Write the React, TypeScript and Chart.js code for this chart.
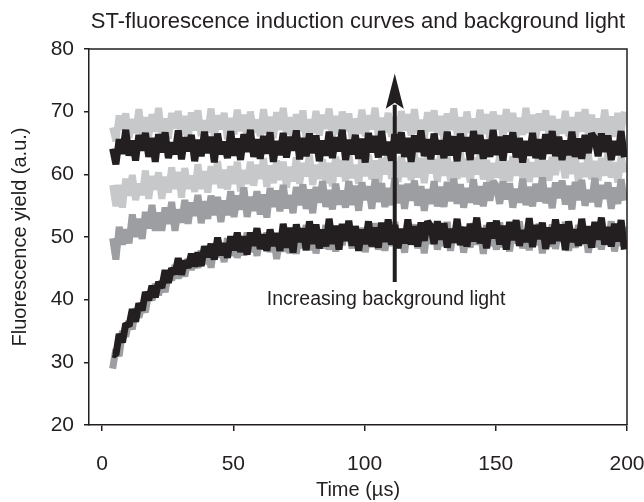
import React, { useEffect, useRef } from 'react';
import { Chart, registerables } from 'chart.js';

Chart.register(...registerables);

const TITLE = 'ST-fluorescence induction curves and background light';
const X_TITLE = 'Time (µs)';
const Y_TITLE = 'Fluorescence yield (a.u.)';
const ANNOTATION = 'Increasing background light';

const INK = '#231f20';
const MID_GRAY = '#9c9ea1';
const LIGHT_GRAY = '#c6c8ca';
const FONT = "'Liberation Sans', Arial, Helvetica, sans-serif";

const xTicks = [0, 50, 100, 150, 200];
const yTicks = [20, 30, 40, 50, 60, 70, 80];

const timeUs = [
  4, 5.25, 6.5, 7.75, 9, 10.25, 11.5, 12.75, 14, 15.25,
  16.5, 17.75, 19, 20.25, 21.5, 22.75, 24, 25.25, 26.5, 27.75,
  29, 30.25, 31.5, 32.75, 34, 35.25, 36.5, 37.75, 39, 40.25,
  41.5, 42.75, 44, 45.25, 46.5, 47.75, 49, 50.25, 51.5, 52.75,
  54, 55.25, 56.5, 57.75, 59, 60.25, 61.5, 62.75, 64, 65.25,
  66.5, 67.75, 69, 70.25, 71.5, 72.75, 74, 75.25, 76.5, 77.75,
  79, 80.25, 81.5, 82.75, 84, 85.25, 86.5, 87.75, 89, 90.25,
  91.5, 92.75, 94, 95.25, 96.5, 97.75, 99, 100.25, 101.5, 102.75,
  104, 105.25, 106.5, 107.75, 109, 110.25, 111.5, 112.75, 114, 115.25,
  116.5, 117.75, 119, 120.25, 121.5, 122.75, 124, 125.25, 126.5, 127.75,
  129, 130.25, 131.5, 132.75, 134, 135.25, 136.5, 137.75, 139, 140.25,
  141.5, 142.75, 144, 145.25, 146.5, 147.75, 149, 150.25, 151.5, 152.75,
  154, 155.25, 156.5, 157.75, 159, 160.25, 161.5, 162.75, 164, 165.25,
  166.5, 167.75, 169, 170.25, 171.5, 172.75, 174, 175.25, 176.5, 177.75,
  179, 180.25, 181.5, 182.75, 184, 185.25, 186.5, 187.75, 189, 190.25,
  191.5, 192.75, 194, 195.25, 196.5, 197.75, 199,
];

// no background light (black trace over its grey repeat)
const curveDarkLow = [
  31.3, 31.2, 34.5, 33.2, 36.2, 35.8, 38.5, 36.5, 39.4, 38.3,
  41.2, 39.9, 42.2, 40.4, 42.8, 41.9, 44.7, 42.7, 45.0, 44.1,
  46.6, 44.0, 46.2, 45.1, 47.3, 45.3, 47.5, 45.4, 48.5, 46.8,
  48.9, 46.4, 49.9, 47.1, 49.0, 46.7, 50.1, 47.9, 50.7, 47.6,
  50.1, 47.2, 50.7, 48.6, 51.4, 48.1, 50.4, 47.8, 51.2, 48.6,
  50.6, 47.8, 52.1, 48.3, 51.5, 47.5, 52.0, 49.2, 51.4, 47.9,
  52.5, 48.9, 52.0, 48.2, 51.2, 48.5, 52.9, 48.9, 51.8, 48.0,
  52.1, 49.4, 52.6, 48.6, 51.7, 47.8, 51.2, 48.9, 52.5, 48.5,
  51.5, 48.3, 52.3, 49.2, 52.8, 48.8, 51.9, 48.2, 51.3, 49.0,
  52.8, 48.8, 51.7, 48.5, 52.3, 49.4, 52.5, 51.7, 48.9, 52.5,
  49.6, 52.2, 48.3, 51.3, 49.1, 52.9, 48.7, 51.6, 48.5, 52.1,
  49.3, 53.1, 49.0, 51.4, 48.2, 52.3, 49.8, 52.6, 48.8, 51.8,
  48.0, 52.4, 49.5, 52.7, 48.6, 51.1, 49.2, 53.0, 48.4, 51.9,
  49.7, 52.3, 48.1, 51.5, 48.9, 52.8, 49.4, 52.0, 47.9, 52.5,
  49.2, 51.2, 48.6, 52.9, 49.0, 51.7, 48.3, 52.4, 49.6, 53.1,
  48.8, 51.6, 48.5, 52.1, 49.3, 52.7, 48.0,
];
const curveGrayLow = [
  29.0, 32.1, 31.0, 35.0, 34.1, 36.6, 35.3, 38.6, 37.2, 39.1,
  38.0, 41.1, 39.9, 42.5, 40.7, 43.0, 41.2, 44.2, 43.1, 45.5,
  43.4, 45.4, 43.7, 46.5, 44.8, 46.4, 45.1, 47.8, 45.7, 47.8,
  45.1, 48.8, 46.8, 48.7, 46.0, 49.8, 47.0, 49.6, 46.7, 49.2,
  47.1, 50.7, 47.6, 49.9, 47.0, 50.2, 48.1, 50.7, 47.6, 50.4,
  46.5, 49.9, 47.7, 51.3, 47.4, 50.4, 47.3, 51.3, 48.2, 51.9,
  47.9, 51.0, 47.4, 50.5, 48.2, 51.9, 48.0, 50.9, 47.7, 51.5,
  48.7, 51.8, 51.0, 48.2, 51.8, 48.9, 51.5, 47.6, 50.6, 48.4,
  52.2, 48.0, 50.9, 47.8, 51.4, 48.6, 52.4, 48.3, 50.7, 47.5,
  51.7, 49.2, 52.0, 48.2, 51.2, 47.4, 51.8, 48.9, 52.1, 48.0,
  50.5, 48.6, 52.4, 47.8, 51.3, 49.1, 51.7, 47.5, 50.9, 48.3,
  52.2, 48.8, 51.4, 47.3, 51.9, 48.6, 50.6, 48.0, 52.3, 48.4,
  51.1, 47.7, 51.8, 49.0, 52.5, 48.2, 51.0, 47.9, 51.5, 48.7,
  52.1, 47.4, 50.7, 48.5, 52.0, 48.1, 51.4, 49.2, 52.4, 47.8,
  51.2, 48.3, 51.9, 48.8, 51.6, 47.5, 50.8, 48.4, 52.2, 48.0,
  51.3, 49.1, 52.5, 47.7, 50.9, 48.6, 51.7,
];
const curveMidGray = [
  49.8, 46.4, 51.6, 48.8, 51.2, 49.0, 53.6, 50.0, 52.9, 49.7,
  54.0, 51.4, 55.1, 51.0, 53.9, 51.0, 54.7, 52.1, 55.6, 51.0,
  54.4, 52.3, 55.9, 52.1, 55.5, 53.4, 56.7, 52.2, 55.7, 52.9,
  56.6, 53.5, 56.4, 52.4, 55.8, 53.5, 57.3, 53.2, 56.6, 54.4,
  57.9, 53.2, 56.4, 54.2, 57.3, 53.6, 56.8, 53.1, 57.8, 54.8,
  57.4, 54.1, 58.3, 54.6, 56.7, 53.8, 58.0, 55.1, 58.4, 54.5,
  57.6, 53.8, 58.0, 55.5, 58.9, 54.8, 57.5, 54.4, 58.5, 55.2,
  57.4, 54.7, 58.9, 55.1, 58.2, 54.2, 58.7, 55.9, 58.1, 54.5,
  59.2, 55.6, 58.6, 54.8, 57.8, 55.1, 59.4, 55.4, 58.3, 54.5,
  58.5, 55.8, 59.0, 55.0, 58.1, 54.2, 57.6, 55.3, 58.9, 54.9,
  58.0, 54.8, 58.8, 55.7, 59.3, 55.3, 58.4, 54.7, 57.8, 55.5,
  59.2, 55.2, 58.1, 54.9, 58.7, 55.8, 58.9, 58.1, 55.3, 58.9,
  56.0, 58.6, 54.7, 57.7, 55.5, 59.3, 55.1, 58.0, 54.9, 58.5,
  55.7, 59.5, 55.4, 57.8, 54.6, 58.7, 56.2, 59.0, 55.2, 58.2,
  54.4, 58.8, 55.9, 59.1, 55.0, 57.5, 55.6, 59.4, 54.8, 58.3,
  56.1, 58.7, 54.5, 57.9, 55.3, 59.2, 55.8,
];
const curveLightMid = [
  58.3, 54.9, 58.3, 54.7, 59.3, 56.6, 59.9, 55.9, 58.5, 56.7,
  60.6, 56.1, 59.7, 57.6, 60.3, 56.1, 59.6, 57.1, 61.1, 57.7,
  60.4, 56.3, 61.0, 57.7, 59.8, 57.2, 61.6, 57.7, 60.5, 57.1,
  61.3, 58.5, 62.1, 57.8, 60.7, 57.6, 61.3, 58.5, 62.0, 57.3,
  60.7, 58.5, 62.0, 58.2, 61.5, 59.3, 62.6, 58.0, 61.4, 58.6,
  62.2, 59.1, 62.0, 57.9, 61.2, 58.9, 62.7, 58.5, 61.8, 59.7,
  63.1, 58.3, 61.5, 59.3, 62.4, 58.6, 61.8, 58.1, 62.8, 59.7,
  62.3, 58.9, 63.2, 59.4, 61.5, 58.5, 62.7, 59.7, 63.1, 59.2,
  62.2, 58.4, 62.6, 60.0, 63.4, 59.3, 62.0, 58.8, 62.9, 59.6,
  61.9, 59.1, 63.3, 59.5, 62.6, 58.6, 63.0, 60.2, 62.4, 58.8,
  63.4, 59.8, 62.8, 59.0, 62.0, 59.3, 63.6, 59.6, 62.5, 58.7,
  62.7, 60.0, 63.2, 59.2, 62.3, 58.4, 61.8, 59.5, 63.1, 59.1,
  62.1, 58.9, 62.9, 59.8, 63.4, 59.4, 62.5, 58.8, 61.9, 59.6,
  63.3, 59.3, 62.2, 59.0, 62.8, 59.9, 63.0, 62.2, 59.4, 63.0,
  60.1, 62.7, 58.8, 61.8, 59.6, 63.4, 59.2, 62.1, 59.0, 62.6,
  59.8, 63.6, 59.5, 61.9, 58.7, 62.8, 60.3,
];
const curveDarkHigh = [
  64.1, 61.6, 65.6, 63.3, 67.1, 63.0, 65.4, 62.2, 66.3, 63.8,
  66.6, 62.8, 65.8, 62.0, 66.4, 63.5, 66.7, 62.6, 65.1, 63.2,
  67.0, 62.4, 65.9, 63.7, 66.3, 62.1, 65.5, 62.9, 66.8, 63.4,
  66.0, 61.9, 66.5, 63.2, 65.2, 62.6, 66.9, 63.0, 65.7, 62.3,
  66.4, 63.6, 67.1, 62.8, 65.6, 62.5, 66.1, 63.3, 66.7, 62.0,
  65.3, 63.1, 66.6, 62.7, 66.0, 63.8, 67.0, 62.4, 65.8, 62.9,
  66.5, 63.4, 66.2, 62.1, 65.4, 63.0, 66.8, 62.6, 65.9, 63.7,
  67.1, 62.3, 65.5, 63.2, 66.3, 62.5, 65.7, 61.9, 66.6, 63.5,
  66.1, 62.7, 66.9, 63.1, 65.2, 62.2, 66.4, 63.4, 66.7, 62.8,
  65.8, 62.0, 66.2, 63.6, 67.0, 62.9, 65.6, 62.4, 66.5, 63.2,
  65.4, 62.6, 66.8, 63.0, 66.1, 62.1, 66.5, 63.7, 65.9, 62.3,
  66.9, 63.3, 66.3, 62.5, 65.5, 62.8, 67.1, 63.1, 66.0, 62.2,
  66.2, 63.5, 66.7, 62.7, 65.8, 61.9, 65.3, 63.0, 66.6, 62.6,
  65.6, 62.4, 66.4, 63.3, 66.9, 62.9, 66.0, 62.3, 65.4, 63.1,
  66.8, 62.8, 65.7, 62.5, 66.3, 63.4, 66.5, 65.7, 62.9, 66.5,
  63.6, 66.2, 62.3, 65.3, 63.1, 66.9, 62.7,
];
const curveLightHigh = [
  67.5, 65.3, 69.4, 67.1, 69.7, 65.8, 68.8, 66.6, 70.4, 66.2,
  69.1, 66.0, 69.6, 66.8, 70.6, 66.5, 68.9, 65.7, 69.8, 67.3,
  70.1, 66.3, 69.3, 65.5, 69.9, 67.0, 70.2, 66.1, 68.6, 66.7,
  70.5, 65.9, 69.4, 67.2, 69.8, 65.6, 69.0, 66.4, 70.3, 66.9,
  69.5, 65.4, 70.0, 66.7, 68.7, 66.1, 70.4, 66.5, 69.2, 65.8,
  69.9, 67.1, 70.6, 66.3, 69.1, 66.0, 69.6, 66.8, 70.2, 65.5,
  68.8, 66.6, 70.1, 66.2, 69.5, 67.3, 70.5, 65.9, 69.3, 66.4,
  70.0, 66.9, 69.7, 65.6, 68.9, 66.5, 70.3, 66.1, 69.4, 67.2,
  70.6, 65.8, 69.0, 66.7, 69.8, 66.0, 69.2, 65.4, 70.1, 67.0,
  69.6, 66.2, 70.4, 66.6, 68.7, 65.7, 69.9, 66.9, 70.2, 66.3,
  69.3, 65.5, 69.7, 67.1, 70.5, 66.4, 69.1, 65.9, 70.0, 66.7,
  68.9, 66.1, 70.3, 66.5, 69.6, 65.6, 70.0, 67.2, 69.4, 65.8,
  70.4, 66.8, 69.8, 66.0, 69.0, 66.3, 70.6, 66.6, 69.5, 65.7,
  69.7, 67.0, 70.2, 66.2, 69.3, 65.4, 68.8, 66.5, 70.1, 66.1,
  69.1, 65.9, 69.9, 66.8, 70.4, 66.4, 69.5, 65.8, 68.9, 66.6,
  70.3, 66.3, 69.2, 66.0, 69.8, 66.9, 70.0,
];

// arrow annotation (data space)
const arrowTime = 111.5;
const arrowFrom = 42.8;
const arrowTo = 76.1;
const arrowHeadBase = 70.8;
const labelTime = 108.2;
const labelValue = 40;

const toPoints = (vals: number[]) => vals.map((v, i) => ({ x: timeUs[i], y: v }));

const framePlugin = {
  id: 'frameAndArrow',
  afterDatasetsDraw(chart: any) {
    const { ctx, chartArea, scales } = chart;
    const xs = scales.x;
    const ys = scales.y;
    ctx.save();
    const ax = xs.getPixelForValue(arrowTime);
    const y0 = ys.getPixelForValue(arrowFrom);
    const yTip = ys.getPixelForValue(arrowTo);
    const yBase = ys.getPixelForValue(arrowHeadBase);
    ctx.strokeStyle = INK;
    ctx.fillStyle = INK;
    ctx.lineWidth = 4;
    ctx.beginPath();
    ctx.moveTo(ax, y0);
    ctx.lineTo(ax, yBase - 2);
    ctx.stroke();
    ctx.beginPath();
    ctx.moveTo(ax, yTip);
    ctx.lineTo(ax + 9, yBase + 2);
    ctx.lineTo(ax, yBase - 4);
    ctx.lineTo(ax - 9, yBase + 2);
    ctx.closePath();
    ctx.fill();
    ctx.font = `19.5px ${FONT}`;
    ctx.textAlign = 'center';
    ctx.textBaseline = 'middle';
    ctx.fillText(ANNOTATION, xs.getPixelForValue(labelTime), ys.getPixelForValue(labelValue));
    ctx.lineWidth = 1.5;
    ctx.beginPath();
    ctx.moveTo(chartArea.left, chartArea.top);
    ctx.lineTo(chartArea.right, chartArea.top);
    ctx.lineTo(chartArea.right, chartArea.bottom);
    ctx.stroke();
    ctx.restore();
  },
};

export default function App() {
  const ref = useRef<HTMLCanvasElement | null>(null);
  useEffect(() => {
    if (!ref.current) return;
    const lineDs = (label: string, vals: number[], color: string, order: number) => ({
      label,
      data: toPoints(vals),
      borderColor: color,
      backgroundColor: color,
      borderWidth: 7,
      pointRadius: 0,
      tension: 0,
      borderJoinStyle: 'bevel' as const,
      borderCapStyle: 'butt' as const,
      fill: false,
      order,
    });
    const chart = new Chart(ref.current, {
      type: 'line',
      data: {
        datasets: [
          lineDs('Dark, low', curveDarkLow, INK, 0),
          lineDs('Dark, high', curveDarkHigh, INK, 1),
          lineDs('Gray, low', curveGrayLow, MID_GRAY, 2),
          lineDs('Mid gray', curveMidGray, MID_GRAY, 3),
          lineDs('Light, mid', curveLightMid, LIGHT_GRAY, 4),
          lineDs('Light, high', curveLightHigh, LIGHT_GRAY, 5),
        ],
      },
      options: {
        responsive: false,
        animation: false,
        devicePixelRatio: 1,
        layout: { padding: { left: 0, right: 0, top: 0, bottom: 0 } },
        plugins: {
          legend: { display: false },
          tooltip: { enabled: false },
          title: {
            display: true,
            text: TITLE,
            color: INK,
            fullSize: false,
            font: { family: FONT, size: 22, weight: 'normal' },
            padding: { top: 9, bottom: 13.6 },
          },
        },
        scales: {
          x: {
            type: 'linear',
            min: -5,
            max: 200,
            afterBuildTicks: (s: any) => {
              s.ticks = xTicks.map((v) => ({ value: v }));
            },
            afterFit: (s: any) => {
              s.height = 77;
              s.paddingLeft = 0;
              s.paddingRight = 17;
            },
            grid: { display: true, drawOnChartArea: false, drawTicks: true, tickLength: 6, color: INK, lineWidth: 1.5 },
            border: { display: true, color: INK, width: 1.5 },
            ticks: { color: INK, font: { family: FONT, size: 21 }, padding: 21, maxRotation: 0, autoSkip: false },
            title: { display: true, text: X_TITLE, color: INK, font: { family: FONT, size: 20 }, padding: { top: 0, bottom: 0 } },
          },
          y: {
            type: 'linear',
            min: 20,
            max: 80,
            afterBuildTicks: (s: any) => {
              s.ticks = yTicks.map((v) => ({ value: v }));
            },
            afterFit: (s: any) => {
              s.width = 89;
            },
            grid: { display: true, drawOnChartArea: false, drawTicks: true, tickLength: 5, color: INK, lineWidth: 1.5 },
            border: { display: true, color: INK, width: 1.5 },
            ticks: { color: INK, font: { family: FONT, size: 21 }, padding: 10 },
            title: { display: true, text: Y_TITLE, color: INK, font: { family: FONT, size: 20 }, padding: { top: 8, bottom: 0 } },
          },
        },
      },
      plugins: [framePlugin],
    });
    return () => chart.destroy();
  }, []);
  return (
    <div style={{ position: 'absolute', left: 0, top: 0, width: 644, height: 502, background: '#fff' }}>
      <canvas ref={ref} width={644} height={502} style={{ display: 'block' }} />
    </div>
  );
}
